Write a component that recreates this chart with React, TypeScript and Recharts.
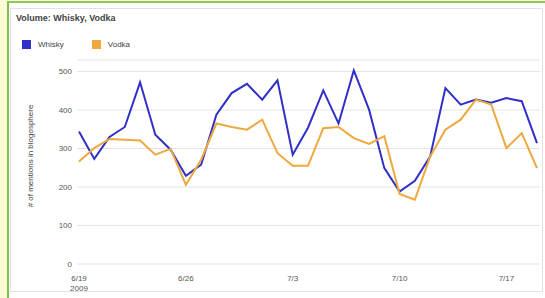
import React from "react";
import { CartesianGrid, Line, LineChart, XAxis, YAxis } from "recharts";

const dates = [
  "6/19", "6/20", "6/21", "6/22", "6/23", "6/24", "6/25", "6/26", "6/27", "6/28",
  "6/29", "6/30", "7/1", "7/2", "7/3", "7/4", "7/5", "7/6", "7/7", "7/8",
  "7/9", "7/10", "7/11", "7/12", "7/13", "7/14", "7/15", "7/16", "7/17", "7/18", "7/19",
];

const whisky = [
  344, 273, 330, 356, 472, 336, 297, 229, 258, 388,
  444, 468, 427, 477, 284, 354, 451, 365, 503, 401,
  249, 188, 216, 279, 457, 414, 427, 419, 431, 423, 314,
];

const vodka = [
  266, 301, 325, 323, 321, 284, 299, 206, 271, 365,
  356, 349, 375, 288, 255, 255, 353, 356, 327, 312,
  332, 182, 167, 279, 349, 375, 427, 414, 301, 340, 249,
];

const dateTicks = ["6/19", "6/26", "7/3", "7/10", "7/17"];
const valueTicks = [0, 100, 200, 300, 400, 500];

const series = [
  { key: "Whisky", color: "#3030c8" },
  { key: "Vodka", color: "#eda93e" },
];

const data = dates.map((date, i) => ({
  date,
  Whisky: whisky[i],
  Vodka: vodka[i],
}));

const font = '"Liberation Sans", Arial, sans-serif';

function DateTick(props: any) {
  const { x, y, payload } = props;
  return (
    <text x={x} y={y} textAnchor="middle" fontSize={8} fill="#555" fontFamily={font}>
      <tspan x={x} dy={9}>{payload.value}</tspan>
      {payload.value === "6/19" && (
        <tspan x={x} dy={10}>2009</tspan>
      )}
    </text>
  );
}

export default function App() {
  return (
    <div
      style={{
        position: "fixed",
        left: 0,
        top: 0,
        width: 545,
        height: 298,
        background: "#fdfbd2",
        overflow: "hidden",
        fontFamily: font,
      }}
    >
      <div
        style={{
          position: "absolute",
          left: 7,
          top: 1,
          width: 545,
          height: 300,
          borderLeft: "2px solid #7fbf4f",
          borderTop: "2px solid #8cc860",
          background: "#ffffff",
        }}
      />
      <div
        style={{
          position: "absolute",
          left: 10,
          top: 8,
          width: 531,
          height: 282,
          border: "1px solid #e2e2e2",
        }}
      />
      <div
        style={{
          position: "absolute",
          left: 16,
          top: 13,
          fontSize: 9,
          fontWeight: "bold",
          color: "#444",
        }}
      >
        Volume: Whisky, Vodka
      </div>
      <div
        style={{
          position: "absolute",
          left: 22,
          top: 40,
          display: "flex",
          alignItems: "center",
          fontSize: 8,
          color: "#444",
        }}
      >
        {series.map((s) => (
          <div key={s.key} style={{ display: "flex", alignItems: "center", marginRight: 28 }}>
            <div style={{ width: 9, height: 9, background: s.color, marginRight: 7 }} />
            <span>{s.key}</span>
          </div>
        ))}
      </div>
      <div style={{ position: "absolute", left: 0, top: 0 }}>
        <LineChart
          width={545}
          height={298}
          data={data}
          margin={{ top: 60, right: 5, bottom: 0, left: 0 }}
        >
          <CartesianGrid vertical={false} stroke="#e4e4e4" />
          <XAxis
            dataKey="date"
            ticks={dateTicks}
            interval={0}
            tick={<DateTick />}
            tickLine={false}
            axisLine={false}
            height={34}
            padding={{ left: 2, right: 3 }}
          />
          <YAxis
            width={77}
            domain={[0, 530]}
            ticks={valueTicks}
            tickLine={false}
            axisLine={false}
            tickSize={0}
            tickMargin={5}
            tick={{ fontSize: 8, fill: "#555", fontFamily: font }}
            label={{
              value: "# of mentions in blogosphere",
              angle: -90,
              position: "insideLeft",
              offset: 30,
              dy: -6,
              style: { fontSize: 8, fill: "#444", fontFamily: font, textAnchor: "middle" },
            }}
          />
          {series.map((s) => (
            <Line
              key={s.key}
              type="linear"
              dataKey={s.key}
              stroke={s.color}
              strokeWidth={2}
              dot={false}
              isAnimationActive={false}
            />
          ))}
        </LineChart>
      </div>
    </div>
  );
}
